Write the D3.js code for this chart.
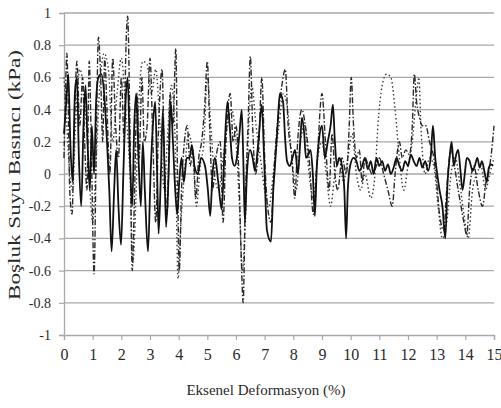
<!DOCTYPE html>
<html>
<head>
<meta charset="utf-8">
<script src="https://cdn.jsdelivr.net/npm/d3@7"></script>
<style>
  body { margin: 0; background: #fff; }
  svg text { font-family: 'Liberation Serif', 'Times New Roman', Times, 'DejaVu Serif', 'Noto Serif', serif; fill: #2a2a2a; }
</style>
</head>
<body>
<div id="chart"></div>
<script>
// x = axial strain (%), y = pore water pressure (kPa)
const solidSeries = [[0,0.25],[0.08,0.45],[0.15,0.62],[0.22,0.2],[0.3,-0.05],[0.38,0.5],[0.45,0.6],[0.52,0.1],[0.6,-0.2],[0.68,0.3],[0.75,0.55],[0.82,0.2],[0.9,-0.1],[0.97,0.3],[1.05,0.0],[1.12,0.45],[1.2,0.6],[1.3,0.62],[1.4,0.5],[1.5,0.2],[1.58,-0.1],[1.66,-0.48],[1.75,-0.1],[1.82,0.15],[1.9,-0.2],[1.99,-0.44],[2.07,0.0],[2.15,0.45],[2.22,0.6],[2.3,0.1],[2.38,-0.2],[2.45,0.3],[2.52,0.5],[2.6,0.1],[2.68,-0.2],[2.75,0.2],[2.82,-0.1],[2.93,-0.48],[3.02,0.0],[3.1,0.3],[3.18,0.45],[3.25,0.0],[3.3,-0.37],[3.38,0.0],[3.45,0.4],[3.56,-0.33],[3.65,0.0],[3.72,0.45],[3.8,0.2],[3.88,-0.1],[3.95,-0.25],[4.02,-0.05],[4.1,0.1],[4.18,-0.05],[4.28,0.1],[4.38,0.1],[4.46,0.18],[4.55,0.05],[4.67,0.0],[4.78,0.1],[4.92,0.05],[5.02,-0.1],[5.1,-0.26],[5.18,0.0],[5.27,0.1],[5.38,-0.05],[5.5,-0.22],[5.6,0.15],[5.7,0.45],[5.78,0.3],[5.86,0.1],[5.95,0.05],[6.03,0.1],[6.12,0.25],[6.2,0.4],[6.26,0.05],[6.31,-0.3],[6.38,0.0],[6.49,0.15],[6.58,0.1],[6.66,0.02],[6.78,0.2],[6.9,0.43],[6.98,0.1],[7.08,-0.35],[7.22,-0.42],[7.3,-0.1],[7.36,0.05],[7.45,0.3],[7.53,0.5],[7.64,0.45],[7.72,0.2],[7.78,0.08],[7.88,0.05],[7.97,0.1],[8.06,0.15],[8.16,0.0],[8.24,0.2],[8.3,0.35],[8.38,0.25],[8.44,0.1],[8.52,0.12],[8.6,0.15],[8.68,0.0],[8.75,-0.26],[8.82,0.05],[8.9,0.22],[9.0,0.3],[9.1,0.1],[9.2,0.2],[9.3,0.3],[9.38,0.43],[9.45,0.2],[9.52,0.05],[9.6,0.1],[9.7,0.05],[9.78,-0.1],[9.84,-0.4],[9.9,-0.1],[9.98,0.05],[10.1,0.1],[10.2,0.08],[10.3,0.02],[10.4,0.05],[10.5,0.1],[10.6,0.03],[10.7,0.08],[10.8,0.0],[10.9,0.1],[11.0,0.05],[11.1,0.08],[11.2,0.02],[11.3,0.06],[11.4,0.0],[11.5,0.04],[11.6,0.1],[11.7,0.05],[11.8,0.02],[11.9,0.08],[12.0,0.05],[12.1,0.12],[12.2,0.08],[12.3,0.05],[12.4,0.1],[12.5,0.04],[12.6,0.08],[12.7,0.02],[12.8,0.12],[12.87,0.3],[12.95,0.1],[13.02,0.0],[13.1,-0.1],[13.2,-0.2],[13.3,-0.4],[13.38,-0.05],[13.45,0.1],[13.52,0.2],[13.6,0.05],[13.68,0.12],[13.75,0.15],[13.83,0.02],[13.9,-0.1],[13.98,0.0],[14.05,0.1],[14.15,0.08],[14.25,0.02],[14.33,0.05],[14.42,0.1],[14.5,0.04],[14.58,0.08],[14.66,0.02],[14.75,-0.05],[14.82,0.04],[14.9,0.06],[14.97,0.05]];

const dashDotSeries = [[0,0.1],[0.05,0.5],[0.1,0.75],[0.15,0.4],[0.2,-0.1],[0.28,-0.25],[0.35,0.2],[0.45,0.7],[0.55,0.3],[0.65,0.6],[0.72,0.2],[0.8,-0.1],[0.88,0.7],[0.95,0.2],[1.05,-0.62],[1.12,0.1],[1.2,0.85],[1.28,0.6],[1.35,0.2],[1.42,0.72],[1.5,0.4],[1.6,0.0],[1.7,0.72],[1.8,0.3],[1.9,0.1],[2.0,0.6],[2.1,0.2],[2.15,0.7],[2.22,0.98],[2.3,0.3],[2.38,-0.6],[2.45,-0.2],[2.55,0.5],[2.62,0.1],[2.72,0.6],[2.8,0.2],[2.9,0.3],[3.0,0.72],[3.1,0.2],[3.2,-0.3],[3.3,0.3],[3.42,0.65],[3.5,0.1],[3.6,-0.25],[3.7,0.5],[3.8,0.3],[3.9,0.78],[3.96,0.0],[4.02,-0.6],[4.1,-0.1],[4.2,0.2],[4.3,0.3],[4.4,0.05],[4.5,0.15],[4.6,-0.15],[4.7,0.1],[4.8,0.2],[4.9,0.4],[5.0,0.7],[5.08,0.3],[5.18,-0.1],[5.3,0.1],[5.45,0.2],[5.55,-0.3],[5.65,0.2],[5.8,0.5],[5.9,0.2],[6.0,0.3],[6.1,0.0],[6.18,-0.5],[6.25,-0.8],[6.32,-0.2],[6.42,0.3],[6.5,0.73],[6.58,0.3],[6.68,0.0],[6.8,0.2],[6.9,0.6],[7.0,0.1],[7.1,-0.2],[7.22,-0.3],[7.35,0.1],[7.5,0.4],[7.6,0.55],[7.72,0.65],[7.82,0.3],[7.95,0.1],[8.05,-0.15],[8.15,0.2],[8.3,0.4],[8.42,0.3],[8.55,0.1],[8.7,-0.25],[8.82,0.05],[9.0,0.5],[9.12,0.2],[9.25,-0.1],[9.35,0.25],[9.45,0.0],[9.55,-0.1],[9.7,0.1],[9.85,0.0],[9.95,0.3],[10.02,0.6],[10.1,0.3],[10.2,0.1],[10.3,0.15],[10.4,-0.05],[10.5,0.1],[10.62,0.05],[10.75,0.0],[10.9,0.05],[11.0,0.1],[11.15,0.0],[11.3,-0.1],[11.45,-0.2],[11.55,0.0],[11.7,0.2],[11.8,0.1],[11.92,0.15],[12.05,0.12],[12.15,0.3],[12.22,0.62],[12.3,0.45],[12.4,0.35],[12.5,0.3],[12.62,0.3],[12.75,0.2],[12.9,0.1],[13.0,-0.05],[13.1,-0.25],[13.25,-0.35],[13.35,-0.1],[13.5,0.15],[13.62,0.05],[13.75,-0.1],[13.85,-0.2],[13.95,-0.3],[14.05,-0.38],[14.15,-0.1],[14.3,0.05],[14.45,-0.1],[14.6,-0.2],[14.72,-0.05],[14.85,0.05],[14.95,0.2],[15.0,0.3]];

const dottedSeries = [[0,0.6],[0.1,0.3],[0.2,0.0],[0.3,-0.1],[0.4,0.3],[0.55,0.65],[0.7,0.5],[0.85,0.1],[1.0,-0.3],[1.1,0.0],[1.25,0.55],[1.4,0.75],[1.55,0.65],[1.7,0.2],[1.85,0.5],[2.0,0.72],[2.15,0.4],[2.3,0.0],[2.4,-0.55],[2.5,-0.2],[2.6,0.4],[2.75,0.7],[2.9,0.68],[3.05,0.5],[3.2,0.65],[3.35,0.3],[3.5,-0.1],[3.6,0.2],[3.75,0.55],[3.88,0.2],[3.98,-0.65],[4.08,-0.3],[4.2,0.0],[4.35,0.25],[4.5,0.1],[4.62,-0.2],[4.75,0.05],[4.88,0.2],[5.0,0.6],[5.12,0.3],[5.25,0.0],[5.4,-0.1],[5.55,0.1],[5.7,0.3],[5.85,0.4],[6.0,0.2],[6.12,-0.2],[6.22,-0.6],[6.3,-0.4],[6.4,0.1],[6.55,0.55],[6.7,0.3],[6.85,0.1],[7.0,-0.1],[7.15,-0.2],[7.3,0.0],[7.5,0.3],[7.65,0.5],[7.8,0.4],[7.95,0.1],[8.1,-0.1],[8.25,0.2],[8.4,0.3],[8.55,0.0],[8.7,-0.15],[8.85,0.1],[9.0,0.2],[9.15,0.0],[9.3,-0.2],[9.45,0.0],[9.6,0.1],[9.75,-0.05],[9.9,0.1],[10.05,0.25],[10.2,0.0],[10.35,-0.1],[10.5,0.0],[10.7,-0.15],[10.85,0.0],[10.95,0.3],[11.1,0.55],[11.25,0.62],[11.4,0.6],[11.55,0.4],[11.7,0.1],[11.85,-0.1],[12.0,0.05],[12.15,0.2],[12.3,0.5],[12.38,0.6],[12.45,0.3],[12.6,0.0],[12.75,0.1],[12.9,0.05],[13.05,-0.2],[13.2,-0.4],[13.35,-0.3],[13.5,0.0],[13.65,0.1],[13.8,-0.05],[13.95,-0.25],[14.1,-0.4],[14.25,-0.1],[14.4,0.0],[14.55,0.05],[14.7,-0.1],[14.85,0.0],[15.0,0.1]];

const xTicks = d3.range(0, 16, 1);
const yTicks = [-1, -0.8, -0.6, -0.4, -0.2, 0, 0.2, 0.4, 0.6, 0.8, 1];
const xTitle = 'Eksenel Deformasyon (%)';
const yTitle = 'Boşluk Suyu Basıncı (kPa)';

const width = 501;
const height = 408;
const margin = { top: 13, right: 7, bottom: 73, left: 64 };
const serif = "'Liberation Serif', 'Times New Roman', Times, 'DejaVu Serif', serif";

const x = d3.scaleLinear()
  .domain([0, 15])
  .range([margin.left, width - margin.right]);

const y = d3.scaleLinear()
  .domain([-1, 1])
  .range([height - margin.bottom, margin.top]);

const svg = d3.select('#chart').append('svg')
  .attr('width', width)
  .attr('height', height);

// horizontal gridlines
svg.append('g')
  .selectAll('line')
  .data(yTicks.filter(d => d !== -1))
  .enter()
  .append('line')
  .attr('x1', x(0))
  .attr('x2', x(15))
  .attr('y1', d => y(d))
  .attr('y2', d => y(d))
  .attr('stroke', '#a8a8a8')
  .attr('stroke-width', 1.3);

// y axis (plain hyphen for negatives, like the original)
const yAxis = svg.append('g')
  .attr('transform', `translate(${x(0)},0)`)
  .call(d3.axisLeft(y).tickValues(yTicks).tickFormat(d => String(d)).tickSize(5).tickPadding(8));

// x axis
const xAxis = svg.append('g')
  .attr('transform', `translate(0,${y(-1)})`)
  .call(d3.axisBottom(x).tickValues(xTicks).tickSize(5).tickPadding(9));

[yAxis, xAxis].forEach((ax) => {
  ax.attr('font-family', serif);
  ax.select('.domain').attr('stroke', '#a8a8a8').attr('stroke-width', 1.3);
  ax.selectAll('.tick line').attr('stroke', '#a8a8a8').attr('stroke-width', 1.2);
  ax.selectAll('text')
    .style('font-family', serif)
    .attr('fill', '#2a2a2a');
});
yAxis.selectAll('text').style('font-size', '14px');
xAxis.selectAll('text').style('font-size', '16px');

const line = d3.line()
  .x(d => x(d[0]))
  .y(d => y(d[1]))
  .curve(d3.curveMonotoneX);

svg.append('path')
  .datum(dottedSeries)
  .attr('d', line)
  .attr('fill', 'none')
  .attr('stroke', '#3a3a3a')
  .attr('stroke-width', 1.4)
  .attr('stroke-dasharray', '1.5,2.5');

svg.append('path')
  .datum(dashDotSeries)
  .attr('d', line)
  .attr('fill', 'none')
  .attr('stroke', '#2a2a2a')
  .attr('stroke-width', 1.4)
  .attr('stroke-dasharray', '6,2,1.5,2');

svg.append('path')
  .datum(solidSeries)
  .attr('d', line)
  .attr('fill', 'none')
  .attr('stroke', '#111')
  .attr('stroke-width', 1.8);

// axis titles
svg.append('text')
  .attr('x', 266)
  .attr('y', 395)
  .attr('text-anchor', 'middle')
  .style('font-family', serif)
  .style('font-size', '15px')
  .text(xTitle);

svg.append('text')
  .attr('transform', 'translate(20,175) rotate(-90)')
  .attr('text-anchor', 'middle')
  .attr('textLength', 250)
  .attr('lengthAdjust', 'spacingAndGlyphs')
  .style('font-family', serif)
  .style('font-size', '16px')
  .text(yTitle);
</script>
</body>
</html>
